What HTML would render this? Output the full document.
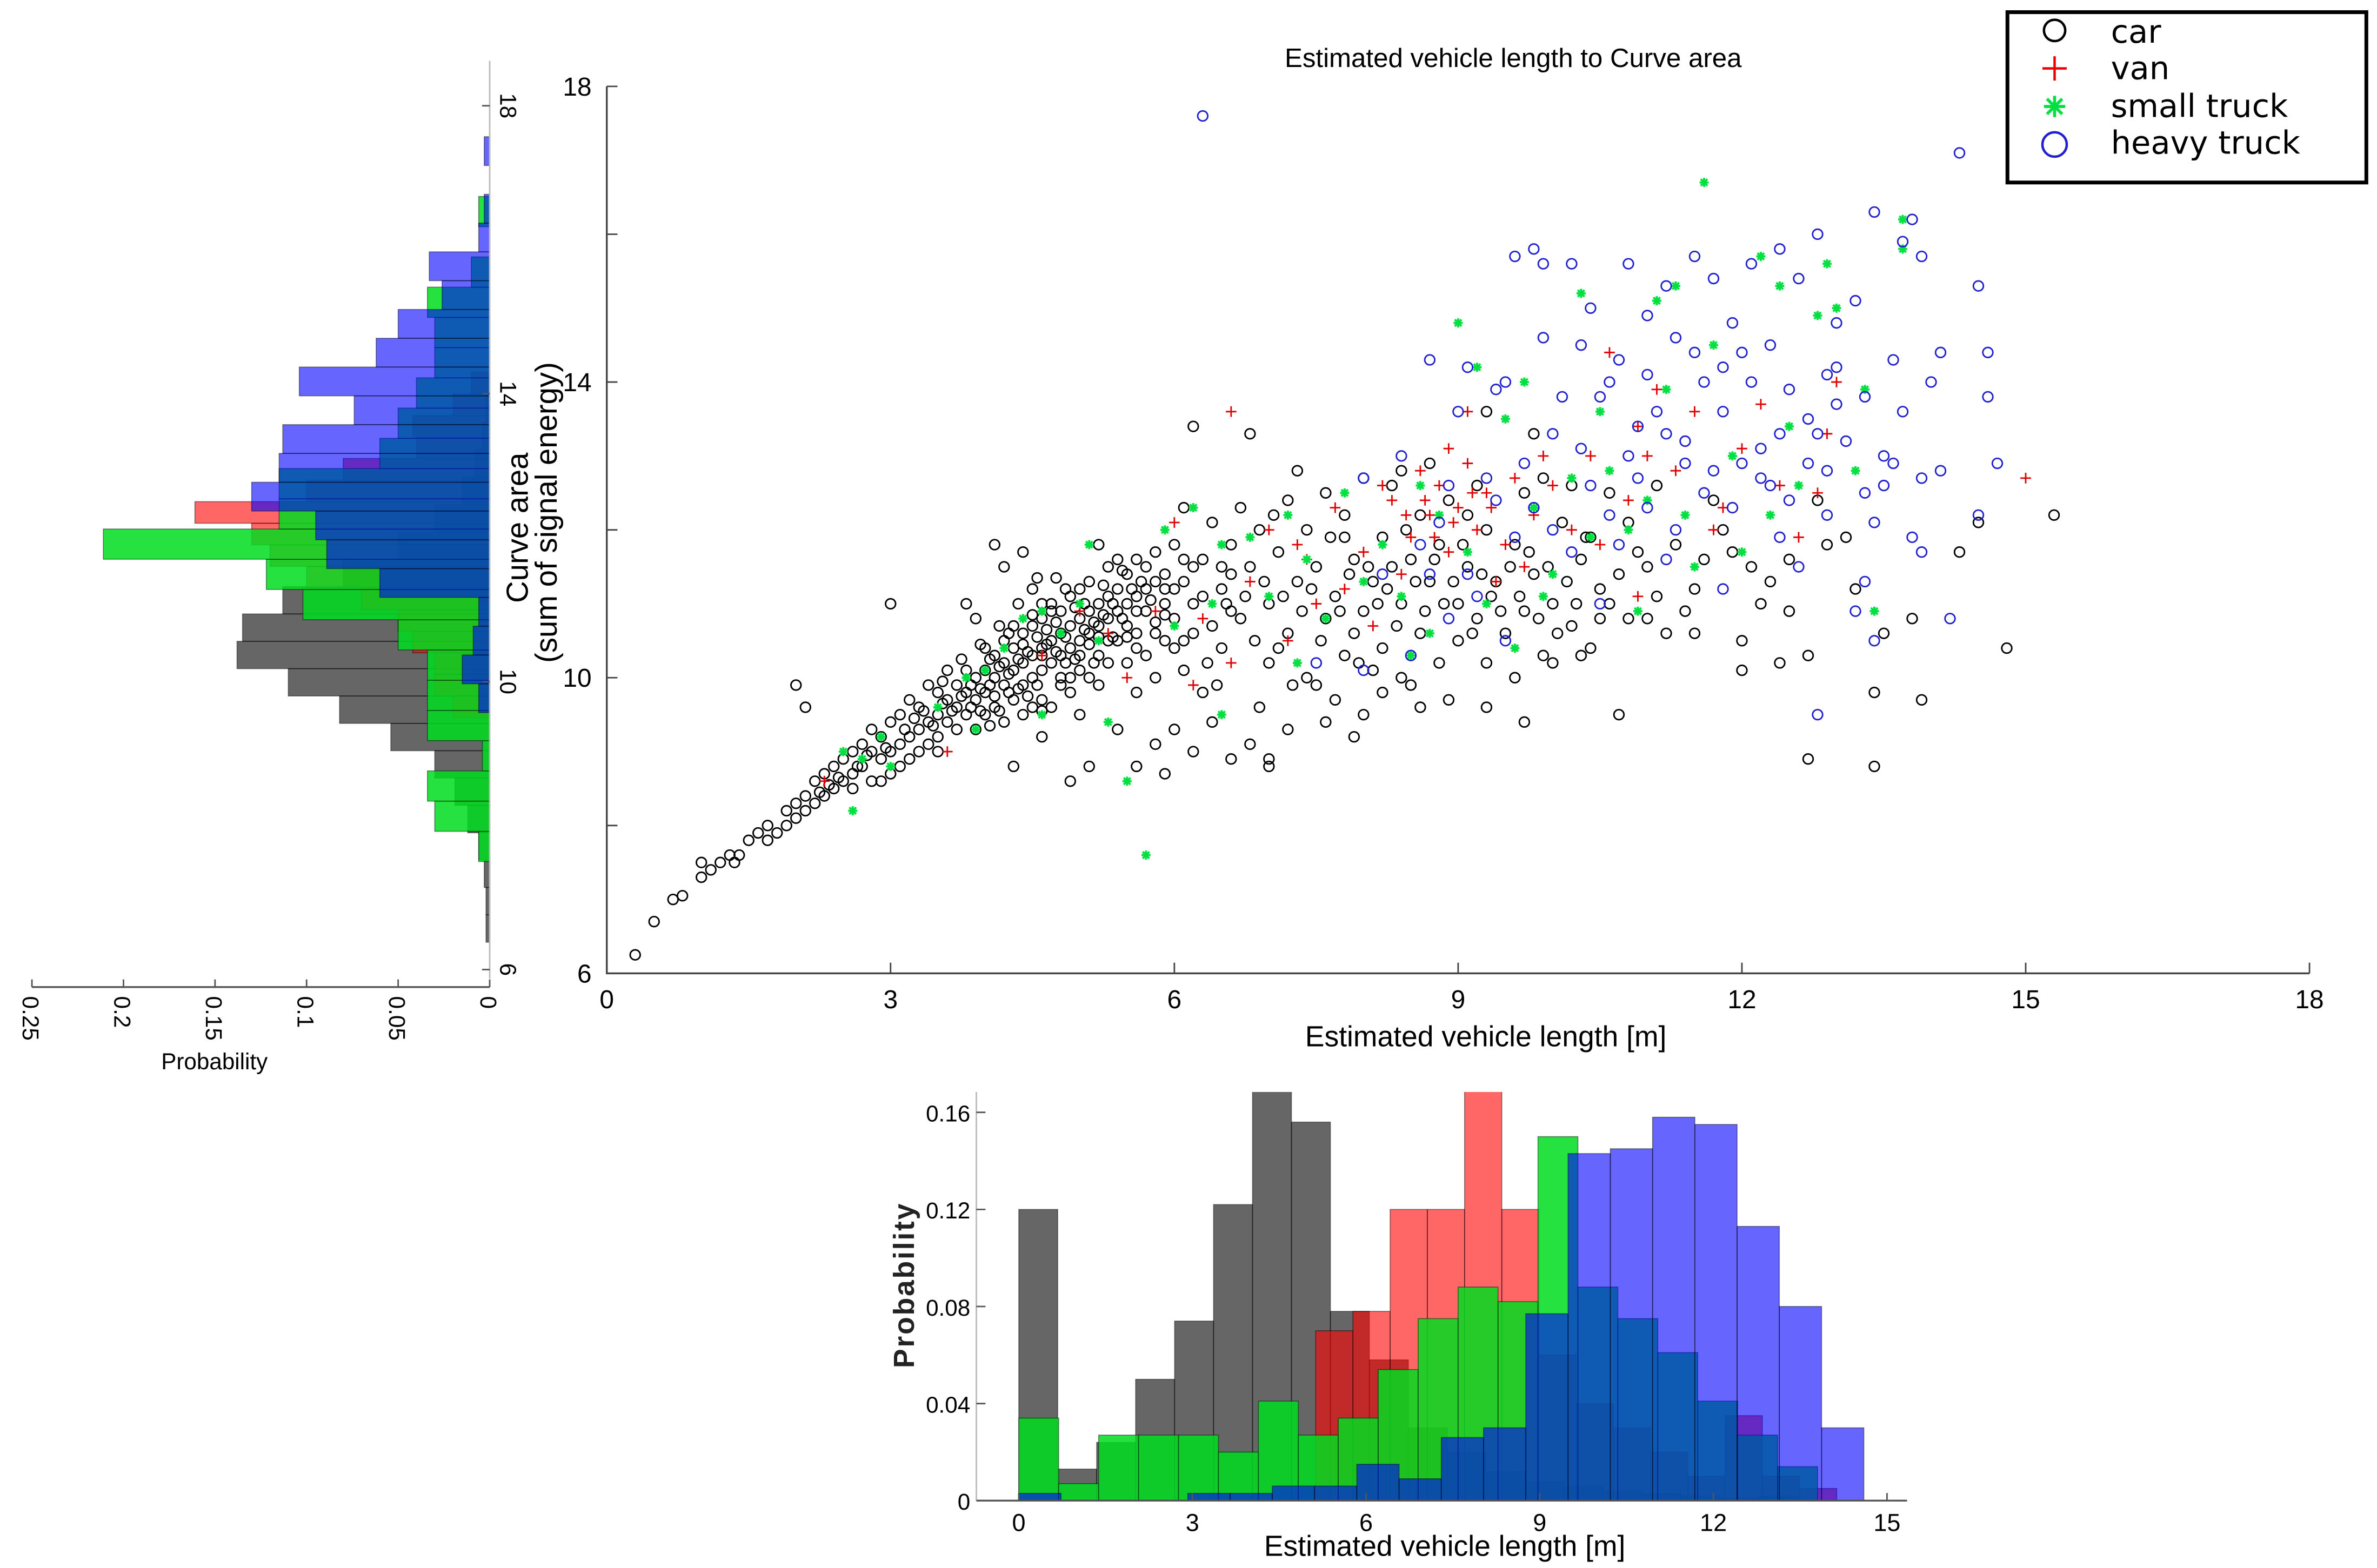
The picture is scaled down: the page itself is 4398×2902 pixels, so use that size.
<!DOCTYPE html>
<html><head><meta charset="utf-8"><style>
html,body{margin:0;padding:0;background:#fff}
svg{display:block;font-family:"Liberation Sans",sans-serif}
</style></head><body>
<svg id="fig" xmlns="http://www.w3.org/2000/svg" width="4398" height="2902" viewBox="0 0 1563 1031" preserveAspectRatio="none">
<rect x="0" y="0" width="1563" height="1031" fill="#fff"/>
<defs>
<clipPath id="clipBottom"><rect x="642" y="718" width="612" height="270"/></clipPath>
</defs>
<g id="leftHist"></g>
<g id="bottomHist" clip-path="url(#clipBottom)"></g>
<g id="scatter"></g>
<g id="axes"></g>
<text x="995" y="44" font-size="17.5" text-anchor="middle">Estimated vehicle length to Curve area</text>
<text x="977" y="688" font-size="19" text-anchor="middle">Estimated vehicle length [m]</text>
<text x="141" y="703" font-size="15" text-anchor="middle">Probability</text>
<text transform="translate(347,347) rotate(-90)" font-size="20" text-anchor="middle">Curve area</text>
<text transform="translate(366,337) rotate(-90)" font-size="20" text-anchor="middle">(sum of signal energy)</text>
<text transform="translate(601,845) rotate(-90)" font-size="19" font-weight="bold" fill="#222" text-anchor="middle" letter-spacing="1">Probability</text>
<text x="950" y="1023" font-size="19" text-anchor="middle">Estimated vehicle length [m]</text>
<g>
<rect x="1320" y="8" width="236" height="112" fill="#fff" stroke="#000" stroke-width="2.5"/>
<g><circle cx="1351" cy="20" r="7" fill="none" stroke="#000" stroke-width="1.6"/><text x="1388" y="28" font-size="21" font-family="DejaVu Sans">car</text></g>
<g><path d="M1343 45H1359M1351 37V53" stroke="#e00" stroke-width="1.6"/><text x="1388" y="52" font-size="21" font-family="DejaVu Sans">van</text></g>
<g><path d="M1344 70H1358M1351 63V77M1346 65L1356 75M1356 65L1346 75" stroke="#00e040" stroke-width="2"/><text x="1388" y="77" font-size="21" font-family="DejaVu Sans">small truck</text></g>
<g><circle cx="1351" cy="95" r="8" fill="none" stroke="#2020d0" stroke-width="1.6"/><text x="1388" y="101" font-size="21" font-family="DejaVu Sans">heavy truck</text></g>
</g>
</svg>
<script>
// ---------- scatter data [length m, curve area] ----------
const carPts = [[0.3,6.25],[0.5,6.7],[0.7,7.0],[0.8,7.05],[1.0,7.3],[1.0,7.5],[1.1,7.4],[1.2,7.5],[1.3,7.6],[1.35,7.5],[1.4,7.6],[1.5,7.8],[1.6,7.9],[1.7,7.8],[1.7,8.0],[1.8,7.9],[1.9,8.0],[1.9,8.2],[2.0,8.1],[2.0,8.3],[2.1,8.2],[2.1,8.4],[2.2,8.3],[2.2,8.6],[2.3,8.4],[2.3,8.7],[2.4,8.5],[2.4,8.8],[2.5,8.6],[2.5,8.9],[2.6,8.7],[2.6,9.0],[2.6,8.5],[2.7,8.8],[2.7,9.1],[2.8,8.6],[2.8,9.0],[2.8,9.3],[2.9,8.9],[2.9,9.2],[3.0,9.0],[3.0,9.4],[3.0,8.7],[3.1,9.1],[3.1,9.5],[3.2,9.2],[3.2,8.9],[3.3,9.3],[3.3,9.6],[3.4,9.4],[3.4,9.1],[3.5,9.5],[3.5,9.8],[3.6,9.4],[3.6,9.7],[3.7,9.6],[3.7,9.9],[3.8,9.5],[3.8,9.8],[3.8,10.1],[3.9,9.7],[3.9,10.0],[4.0,9.8],[4.0,10.1],[4.0,9.5],[4.1,10.0],[4.1,10.3],[4.2,9.9],[4.2,10.2],[4.2,10.5],[4.3,10.1],[4.3,9.7],[4.3,10.4],[4.4,10.2],[4.4,10.6],[4.4,9.9],[4.5,10.3],[4.5,10.0],[4.5,10.7],[4.6,10.4],[4.6,10.1],[4.6,10.8],[4.7,10.5],[4.7,10.2],[4.7,11.0],[4.8,10.6],[4.8,10.3],[4.8,9.9],[4.9,10.7],[4.9,10.4],[4.9,11.1],[5.0,10.8],[5.0,10.5],[5.0,10.1],[5.1,10.9],[5.1,10.6],[5.1,11.3],[5.2,11.0],[5.2,10.7],[5.2,10.3],[5.3,11.1],[5.3,10.8],[5.3,11.5],[5.4,10.9],[5.4,11.2],[5.4,10.5],[5.5,11.0],[5.5,11.4],[5.5,10.7],[5.6,11.1],[5.6,11.6],[5.6,10.4],[5.7,11.2],[5.7,10.9],[5.8,11.3],[5.8,10.6],[5.8,11.7],[5.9,11.0],[5.9,11.4],[6.0,11.2],[6.0,10.8],[6.0,11.8],[6.1,11.3],[6.1,10.5],[6.2,11.5],[6.2,11.0],
[3.2,9.7],[3.4,9.9],[3.6,10.1],[3.7,9.3],[3.9,9.3],[4.0,10.4],[4.1,9.6],[4.2,9.4],[4.3,10.7],[4.4,9.5],[4.5,9.6],[4.6,9.7],[4.6,11.0],[4.8,10.9],[4.9,9.8],[5.0,11.2],[5.1,10.0],[5.2,9.9],[5.3,10.2],[5.4,11.6],[5.5,10.2],[5.6,9.8],[5.7,10.3],[5.8,10.0],[5.9,10.5],[6.1,10.1],[6.2,10.6],[6.3,9.8],[3.1,8.8],[2.9,8.6],[3.3,9.0],[3.5,9.2],[4.7,9.6],[5.2,11.8],[4.5,11.2],[4.2,11.5],[4.4,11.7],[4.1,11.8],[3.8,11.0],[3.9,10.8],[3.0,11.0],[2.0,9.9],[2.1,9.6],
[3.35,9.55],[3.55,9.65],[3.75,9.75],[3.95,9.85],[4.05,9.9],[4.15,10.15],[4.25,10.05],[4.35,10.25],[4.45,10.35],[4.55,10.55],[4.65,10.65],[4.75,10.75],[4.85,10.55],[4.95,10.95],[5.05,10.65],[5.15,10.75],[5.25,10.85],[5.35,11.0],[5.45,10.8],[5.55,11.2],[5.65,11.3],[5.75,11.05],[4.1,9.75],[4.35,9.85],[4.6,10.3],[4.85,10.2],[5.1,10.45],[5.35,10.55],[3.85,9.6],[4.55,9.9],
[3.45,9.35],[3.65,9.55],[3.85,9.9],[4.05,10.25],[4.15,9.55],[4.25,10.6],[4.4,10.45],[4.5,10.85],[4.6,9.55],[4.7,10.9],[4.75,10.35],[4.85,11.2],[4.95,10.25],[5.05,11.0],[5.15,10.2],[5.25,11.25],[5.3,10.5],[5.45,11.45],[5.5,10.55],[5.6,10.9],[5.7,11.5],[5.8,10.75],[5.9,11.2],[6.0,10.4],[3.55,9.95],[3.75,10.25],[3.95,10.45],[4.15,10.7],[4.35,11.0],[4.55,11.35],[3.25,9.45],[3.15,9.3],[2.95,9.05],[2.75,8.95],[2.65,8.8],[2.45,8.65],[2.35,8.55],[2.25,8.45],[4.05,9.35],[4.45,9.75],[4.8,10.0],[5.2,10.55],[5.6,10.6],[5.9,10.85],[6.1,11.6],[6.3,11.1],[6.4,10.7],[6.5,11.5],[4.9,10.0],[5.0,10.3],[4.65,10.45],[4.25,9.8],[3.95,9.55],[4.75,11.35],
[4.9,8.6],[5.1,8.8],[4.3,8.8],[3.5,9.0],[5.4,9.3],[5.6,8.8],[5.8,9.1],[6.0,9.3],[6.8,9.1],[7.0,8.9],[5.9,8.7],[7.5,9.9],[7.6,9.4],[4.6,9.2],[5.0,9.5],
[6.3,11.6],[6.4,12.1],[6.5,11.2],[6.5,10.4],[6.6,11.8],[6.7,12.3],[6.7,10.8],[6.8,11.5],[6.9,12.0],[7.0,11.0],[7.0,10.2],[7.1,11.7],[7.2,12.4],[7.2,10.6],[7.3,11.3],[7.4,12.0],[7.4,10.0],[7.5,11.5],[7.6,10.8],[7.6,12.5],[7.7,11.1],[7.8,12.2],[7.8,10.3],[7.9,11.6],[8.0,10.9],[8.0,12.7],[8.1,11.3],[8.2,10.4],[8.2,11.9],[8.3,12.6],[8.4,11.0],[8.4,10.0],[8.5,11.6],[8.6,10.6],[8.6,12.2],[8.7,11.3],[8.8,10.2],[8.8,11.8],[8.9,12.4],[9.0,11.0],[9.0,10.5],[9.1,11.5],[9.2,10.8],[9.3,12.0],[9.3,10.2],[9.4,11.3],[9.5,10.6],[9.6,11.8],[9.7,10.9],[9.8,11.4],[9.9,10.3],[10.0,11.0],[10.1,12.1],[10.2,10.7],[10.3,11.6],[10.4,10.4],[10.5,11.2],[10.6,12.5],[10.8,10.8],[11.0,11.5],[11.2,10.6],[11.5,11.2],[11.8,12.0],[12.0,10.5],[12.2,11.0],[12.5,11.6],[12.7,10.3],[12.9,11.8],[13.2,11.2],[13.5,10.6],[13.8,10.8],[14.3,11.7],[14.5,12.1],[15.3,12.2],[14.8,10.4],[13.9,9.7],[13.4,9.8],[12.7,8.9],[13.4,8.8],[12.0,10.1],[11.5,10.6],[10.7,9.5],[9.3,9.6],[8.9,9.7],[8.2,9.8],[7.0,8.8],[6.2,13.4],[6.8,13.3],[9.3,13.6],[9.8,13.3],[10.2,12.6],[11.3,11.8],[12.5,10.9],[11.0,10.8],[10.3,10.3],[11.9,11.7],[8.4,12.8],[7.3,12.8],[6.1,12.3],[6.6,10.9],[7.8,11.9],[8.1,10.1],[9.6,10.0],[10.5,10.8],[9.2,12.6],[8.7,12.9],[9.9,12.7],[10.8,12.1],[11.7,12.4],[6.9,9.6],[7.7,9.7],[8.5,9.9],[6.4,9.4],[7.2,9.3],[6.6,11.4],[7.1,10.4],[7.9,10.6],[8.3,11.5],[9.1,12.2],[9.7,12.5],[10.4,11.9],[11.1,12.6],[12.1,11.5],[12.8,12.4],[13.1,11.9],
[6.35,10.2],[6.55,11.0],[6.75,11.1],[6.85,10.5],[6.95,11.3],[7.05,12.2],[7.15,11.1],[7.35,10.9],[7.45,11.2],[7.55,10.5],[7.65,11.9],[7.75,10.9],[7.85,11.4],[7.95,10.2],[8.05,11.5],[8.15,11.0],[8.25,11.2],[8.35,10.7],[8.45,12.0],[8.55,11.3],[8.65,10.9],[8.75,11.6],[8.85,11.0],[8.95,11.3],[9.05,11.8],[9.15,10.6],[9.25,11.4],[9.35,11.1],[9.45,10.9],[9.55,11.5],[9.65,11.1],[9.75,11.7],[9.85,10.8],[9.95,11.5],[10.05,10.6],[10.15,11.3],[10.25,11.0],[10.35,11.9],[10.6,11.0],[10.7,11.4],[10.9,11.7],[11.1,11.1],[11.4,10.9],[11.6,11.6],[12.3,11.3],[12.4,10.2],[6.45,9.9],[7.25,9.9],[8.0,9.5],[8.6,9.6],[9.7,9.4],[10.0,10.2],[7.9,9.2],[6.2,9.0],[6.6,8.9]];
const vanPts = [[5.0,10.9],[5.3,10.6],[5.8,10.9],[6.0,12.1],[6.3,10.8],[6.6,13.6],[6.8,11.3],[7.0,12.0],[7.3,11.8],[7.5,11.0],[7.7,12.3],[8.0,11.7],[8.2,12.6],[8.3,12.4],[8.5,11.9],[8.6,12.8],[8.7,12.2],[8.8,12.6],[8.9,11.7],[8.9,13.1],[9.0,12.3],[9.1,12.9],[9.1,13.6],[9.2,12.0],[9.3,12.5],[9.5,11.8],[9.6,12.7],[9.8,12.2],[10.0,12.6],[10.2,12.0],[10.4,13.0],[10.6,14.4],[10.8,12.4],[11.0,13.0],[11.1,13.9],[11.3,12.8],[11.5,13.6],[11.8,12.3],[12.0,13.1],[12.2,13.7],[12.4,12.6],[12.8,12.5],[13.0,14.0],[15.0,12.7],[8.4,11.4],[7.8,11.2],[7.2,10.5],[6.6,10.2],[4.6,10.3],[3.6,9.0],[2.3,8.6],[9.7,11.5],[10.5,11.8],[11.7,12.0],[12.6,11.9],[7.4,11.6],[8.1,10.7],[9.4,11.3],[10.9,11.1],[6.2,9.9],[5.5,10.0],[9.9,13.0],[10.9,13.4],[12.9,13.3],[8.65,12.4],[8.95,12.1],[9.15,12.5],[8.45,12.2],[8.75,11.9],[9.35,12.3]];
const smallPts = [[2.5,9.0],[2.6,8.2],[2.7,8.9],[3.0,8.8],[2.9,9.2],[3.5,9.6],[3.8,10.0],[4.0,10.1],[4.2,10.4],[4.6,10.9],[4.6,9.5],[5.0,11.0],[5.1,11.8],[5.3,9.4],[5.5,8.6],[5.7,7.6],[5.9,12.0],[6.0,10.7],[6.2,12.3],[6.5,11.8],[6.5,9.5],[6.8,11.9],[7.0,11.1],[7.2,12.2],[7.4,11.6],[7.6,10.8],[7.8,12.5],[8.0,11.3],[8.2,11.8],[8.4,11.1],[8.6,12.6],[8.7,10.6],[8.8,12.2],[9.0,14.8],[9.1,11.7],[9.2,14.2],[9.3,11.0],[9.5,13.5],[9.7,14.0],[9.8,12.3],[10.0,11.4],[10.2,12.7],[10.4,11.9],[10.5,13.6],[10.8,12.0],[11.0,12.4],[11.2,13.9],[11.3,15.3],[11.4,12.2],[11.6,16.7],[11.7,14.5],[11.9,13.0],[12.0,11.7],[12.2,15.7],[12.4,15.3],[12.5,13.4],[12.6,12.6],[12.8,14.9],[13.0,15.0],[13.2,12.8],[13.4,10.9],[13.7,15.8],[13.7,16.2],[9.9,11.1],[10.6,12.8],[11.5,11.5],[12.3,12.2],[7.3,10.2],[8.5,10.3],[9.6,10.4],[10.9,10.9],[6.4,11.0],[5.2,10.5],[3.9,9.3],[4.4,10.8],[4.8,10.6],[12.9,15.6],[11.1,15.1],[13.3,13.9],[10.3,15.2]];
const heavyPts = [[6.3,17.6],[14.3,17.1],[13.8,16.2],[13.4,16.3],[13.9,15.7],[12.4,15.8],[11.5,15.7],[11.7,15.4],[10.2,15.6],[9.8,15.8],[9.9,15.6],[9.6,15.7],[11.2,15.3],[12.8,16.0],[12.1,15.6],[13.2,15.1],[13.7,15.9],[14.5,15.3],[10.4,15.0],[10.8,15.6],[11.0,14.9],[12.6,15.4],[13.0,14.8],[11.3,14.6],[11.9,14.8],[12.3,14.5],[13.0,14.2],[13.6,14.3],[14.1,14.4],[14.6,14.4],[14.0,14.0],[14.6,13.8],[8.7,14.3],[9.1,14.2],[9.5,14.0],[9.9,14.6],[10.3,14.5],[10.6,14.0],[11.0,14.1],[11.6,14.0],[12.0,14.4],[12.5,13.9],[13.3,13.8],[9.0,13.6],[9.4,13.9],[10.0,13.3],[10.5,13.8],[10.9,13.4],[11.4,13.2],[11.8,13.6],[12.2,13.1],[12.7,13.5],[13.1,13.2],[13.5,13.0],[14.1,12.8],[14.7,12.9],[13.9,12.7],[12.9,12.8],[12.3,12.6],[11.7,12.8],[11.0,12.3],[10.4,12.6],[9.8,12.3],[9.3,12.7],[8.8,12.1],[8.4,13.0],[8.0,12.7],[10.8,13.0],[11.3,12.0],[11.9,12.3],[12.4,11.9],[12.9,12.2],[13.4,12.1],[13.9,11.7],[10.2,11.7],[9.6,11.9],[9.1,11.4],[8.6,11.8],[8.2,11.4],[8.9,10.8],[8.5,10.3],[8.0,10.1],[7.5,10.2],[9.5,10.5],[10.5,11.0],[11.2,11.6],[11.8,11.2],[12.6,11.5],[13.2,10.9],[13.4,10.5],[12.8,9.5],[14.5,12.2],[13.5,12.6],[12.0,12.9],[10.7,11.8],[10.0,12.0],[9.2,11.1],[8.7,11.4],[12.5,12.4],[13.7,13.6],[11.5,14.4],[12.9,14.1],[10.1,13.8],[13.3,11.3],[13.8,11.9],[14.2,10.8],[9.7,12.9],[10.6,12.2],[11.4,12.9],[12.2,12.7],[13.0,13.7],[11.1,13.6],[12.1,14.0],[10.3,13.1],[9.4,12.4],[8.9,12.6],[11.6,12.5],[12.7,12.9],[13.3,12.5],[10.9,12.7],[11.2,13.3],[12.4,13.3],[13.6,12.9],[10.7,14.3],[11.8,14.2],[12.8,13.3]];

// ---------- bottom histogram (length) ----------
const lenCarStart = 0, lenCarWidth = 0.673;
const lenCar = [0.12,0.013,0.024,0.05,0.074,0.122,0.18,0.156,0.078,0.058,0.03,0.02,0.012,0.008,0.006,0.004,0.003,0.002,0.001,0.002];
const lenVanStart = 5.13, lenVanWidth = 0.643;
const lenVan = [0.07,0.078,0.12,0.12,0.18,0.12,0.06,0.04,0.03,0.02,0.01,0.035,0.01,0.005];
const lenSmallStart = 0, lenSmallWidth = 0.69;
const lenSmall = [0.034,0.007,0.027,0.027,0.027,0.02,0.041,0.027,0.034,0.054,0.075,0.088,0.082,0.15,0.088,0.075,0.061,0.041,0.027,0.014];
const lenHeavyStart = 0, lenHeavyWidth = 0.73;
const lenHeavy = [0.003,0,0,0,0.003,0.003,0.006,0.006,0.015,0.009,0.026,0.03,0.077,0.143,0.145,0.158,0.155,0.113,0.08,0.03];
const lenXTicks = [0,3,6,9,12,15];
const lenYTicks = [0,0.04,0.08,0.12,0.16];
const lenYTickLabels = ["0","0.04","0.08","0.12","0.16"];

// ---------- left histogram (curve area) ----------
const areaCarStart = 6.38, areaCarWidth = 0.38;
const areaCar = [0.002,0.002,0.003,0.006,0.012,0.019,0.03,0.054,0.082,0.11,0.138,0.135,0.113,0.08,0.05,0.03,0.015,0.008,0.004,0.002];
const areaVanStart = 9.5, areaVanWidth = 0.3;
const areaVan = [0.02,0.03,0.03,0.042,0.05,0.07,0.1,0.12,0.13,0.161,0.1,0.08,0.04,0.042,0.02,0.01];
const areaSmallStart = 7.5, areaSmallWidth = 0.42;
const areaSmall = [0.006,0.03,0.034,0.004,0.034,0.034,0.034,0.05,0.102,0.122,0.211,0.115,0.115,0.06,0.05,0.04,0.03,0.03,0.034,0.01,0,0.006];
const areaHeavyStart = 9.57, areaHeavyWidth = 0.4;
const areaHeavy = [0.006,0.015,0.009,0.006,0.06,0.089,0.095,0.13,0.115,0.113,0.074,0.104,0.062,0.05,0.026,0.033,0.006,0.003,0,0.003];
const areaYTicks = [6,10,14,18];
const areaXTicks = [0,0.05,0.1,0.15,0.2,0.25];
const areaXTickLabels = ["0","0.05","0.1","0.15","0.2","0.25"];

// ---------- scatter axes ticks ----------
const scXTicks = [0,3,6,9,12,15,18];
const scYTicks = [6,8,10,12,14,16,18];
const scYLabels = [6,10,14,18];

const NS = "http://www.w3.org/2000/svg";
function mk(tag, attrs, parent){const e=document.createElementNS(NS,tag);for(const k in attrs)e.setAttribute(k,attrs[k]);parent.appendChild(e);return e;}

const sx = v => 399 + v*62.2;
const sy = v => 640 - (v-6)*48.6;
const bx = v => 669.9 + v*38.06;
const by = p => 986.7 - p*1595.6;
const lx = p => 322 - p*1204;
const ly = v => 637.5 - (v-6)*47.33;

const scatter = document.getElementById('scatter');
const axes = document.getElementById('axes');
const bottom = document.getElementById('bottomHist');
const left = document.getElementById('leftHist');

const GREEN = '#00dd20', GREEN_OP = 0.85;

function bottomSeries(start, w, vals, color, op, name){
  const g = mk('g', {}, bottom);
  
  
  vals.forEach((v,i)=>{
    if(v<=0) return;
    const x0 = bx(start+i*w), x1 = bx(start+(i+1)*w);
    const r = mk('rect', {x:x0, y:by(v), width:x1-x0, height:by(0)-by(v), fill:color, 'fill-opacity':op, stroke:'#000', 'stroke-opacity':0.45, 'stroke-width':0.6}, g);
    
    
  });
}
bottomSeries(lenCarStart, lenCarWidth, lenCar, '#000', 0.6, 'car-length-bars');
bottomSeries(lenVanStart, lenVanWidth, lenVan, '#ff0000', 0.6, 'van-length-bars');
bottomSeries(lenSmallStart, lenSmallWidth, lenSmall, GREEN, GREEN_OP, 'small-truck-length-bars');
bottomSeries(lenHeavyStart, lenHeavyWidth, lenHeavy, '#0000ff', 0.6, 'heavy-truck-length-bars');

function leftSeries(start, w, vals, color, op, name){
  const g = mk('g', {}, left);
  
  
  vals.forEach((v,i)=>{
    if(v<=0) return;
    const y0 = ly(start+(i+1)*w), y1 = ly(start+i*w);
    const r = mk('rect', {x:lx(v), y:y0, width:lx(0)-lx(v), height:y1-y0, fill:color, 'fill-opacity':op, stroke:'#000', 'stroke-opacity':0.45, 'stroke-width':0.6}, g);
    
    
  });
}
leftSeries(areaCarStart, areaCarWidth, areaCar, '#000', 0.6, 'car-area-bars');
leftSeries(areaVanStart, areaVanWidth, areaVan, '#ff0000', 0.6, 'van-area-bars');
leftSeries(areaSmallStart, areaSmallWidth, areaSmall, GREEN, GREEN_OP, 'small-truck-area-bars');
leftSeries(areaHeavyStart, areaHeavyWidth, areaHeavy, '#0000ff', 0.6, 'heavy-truck-area-bars');

function circles(pts, color, name){
  const g = mk('g', {fill:'none', stroke:color, 'stroke-width':1}, scatter);
  
  
  pts.forEach(p=>{
    const c = mk('circle', {cx:sx(p[0]), cy:sy(p[1]), r:3.3}, g);
    
    
  });
}
function pluses(pts, color, name){
  const g = mk('g', {stroke:color, 'stroke-width':1}, scatter);
  
  
  pts.forEach(p=>{
    const x=sx(p[0]), y=sy(p[1]);
    const e = mk('path', {d:`M${x-3.5} ${y}H${x+3.5}M${x} ${y-3.5}V${y+3.5}`}, g);
    
    
  });
}
function stars(pts, color, name){
  const g = mk('g', {stroke:color, 'stroke-width':1.4}, scatter);
  
  
  pts.forEach(p=>{
    const x=sx(p[0]), y=sy(p[1]);
    const e = mk('path', {d:`M${x-3} ${y}H${x+3}M${x} ${y-3}V${y+3}M${x-2.2} ${y-2.2}L${x+2.2} ${y+2.2}M${x+2.2} ${y-2.2}L${x-2.2} ${y+2.2}`}, g);
    
    
  });
}
circles(carPts, '#000', 'car-points');
pluses(vanPts, '#e00000', 'van-points');
stars(smallPts, '#00e040', 'small-truck-points');
circles(heavyPts, '#2020d0', 'heavy-truck-points');

let a;
a = mk('path', {d:`M${sx(0)} ${sy(18)}V${sy(6)}H${sx(18)}`, fill:'none', stroke:'#444', 'stroke-width':1.2}, axes);


scXTicks.forEach(t=>{
  mk('path', {d:`M${sx(t)} ${sy(6)}V${sy(6)-7}`, stroke:'#444', 'stroke-width':1}, axes);
  const tx = mk('text', {x:sx(t), y:sy(6)+23, 'font-size':17, 'text-anchor':'middle'}, axes);
  tx.textContent = t;
  
  
});
scYTicks.forEach(t=>{
  mk('path', {d:`M${sx(0)} ${sy(t)}H${sx(0)+7}`, stroke:'#444', 'stroke-width':1}, axes);
});
scYLabels.forEach(t=>{
  const tx = mk('text', {x:sx(0)-10, y:sy(t)+6, 'font-size':17, 'text-anchor':'end'}, axes);
  tx.textContent = t;
  
  
});

a = mk('path', {d:`M642 ${by(0)}H1254`, stroke:'#555', 'stroke-width':1.2}, axes);


a = mk('path', {d:`M642 718V${by(0)}`, stroke:'#bbb', 'stroke-width':1}, axes);


lenXTicks.forEach(t=>{
  mk('path', {d:`M${bx(t)} ${by(0)}V${by(0)-5}`, stroke:'#555', 'stroke-width':1}, axes);
  const tx = mk('text', {x:bx(t), y:by(0)+20, 'font-size':16, 'text-anchor':'middle'}, axes);
  tx.textContent = t;
  
  
});
lenYTicks.forEach((t,i)=>{
  mk('path', {d:`M642 ${by(t)}H648`, stroke:'#555', 'stroke-width':1}, axes);
  const tx = mk('text', {x:638, y:by(t)+6, 'font-size':15, 'text-anchor':'end'}, axes);
  tx.textContent = lenYTickLabels[i];
  
  
});

a = mk('path', {d:`M${lx(0)} 40V${ly(6)+6}`, stroke:'#bbb', 'stroke-width':1}, axes);


a = mk('path', {d:`M${lx(0.25)} 649H${lx(0)}`, stroke:'#555', 'stroke-width':1.2}, axes);


areaYTicks.forEach(t=>{
  mk('path', {d:`M${lx(0)} ${ly(t)}H${lx(0)-5}`, stroke:'#555', 'stroke-width':1}, axes);
  const tx = mk('text', {transform:`translate(${lx(0)+7},${ly(t)}) rotate(90)`, 'font-size':15, 'text-anchor':'middle'}, axes);
  tx.textContent = t;
  
  
});
areaXTicks.forEach((t,i)=>{
  mk('path', {d:`M${lx(t)} 649V644`, stroke:'#555', 'stroke-width':1}, axes);
  const tx = mk('text', {transform:`translate(${lx(t)-6},655) rotate(90)`, 'font-size':15, 'text-anchor':'start'}, axes);
  tx.textContent = areaXTickLabels[i];
  
  
});
</script>
</body></html>
